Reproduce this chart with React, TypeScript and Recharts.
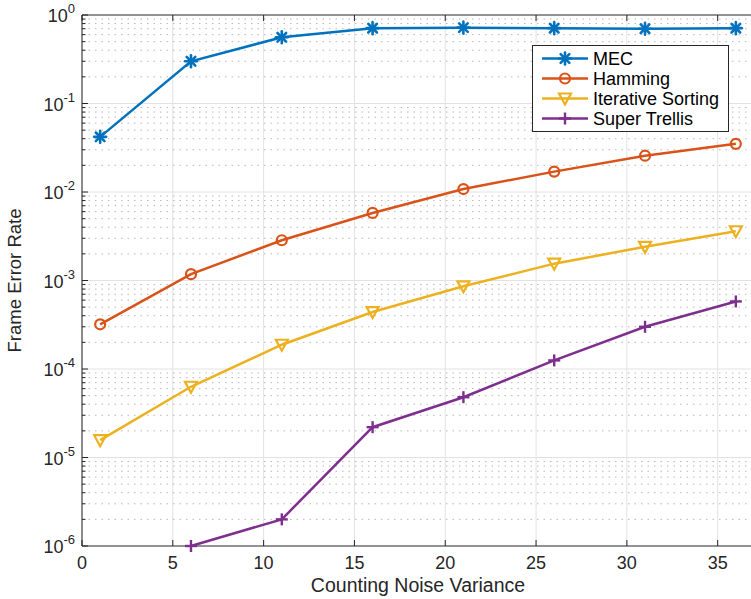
import React from 'react';
import { LineChart, Line, XAxis, YAxis, CartesianGrid, ReferenceLine } from 'recharts';

const noiseVariance = [1, 6, 11, 16, 21, 26, 31, 36];
const mec = [0.042, 0.3, 0.56, 0.71, 0.72, 0.71, 0.7, 0.71];
const hamming = [3.2e-4, 1.18e-3, 2.85e-3, 5.8e-3, 1.08e-2, 1.7e-2, 2.57e-2, 3.5e-2];
const iterativeSorting = [1.57e-5, 6.3e-5, 1.88e-4, 4.4e-4, 8.6e-4, 1.55e-3, 2.4e-3, 3.6e-3];
const superTrellis = [null, 1.0e-6, 2.0e-6, 2.2e-5, 4.8e-5, 1.25e-4, 3.0e-4, 5.8e-4];

const xTicks = [0, 5, 10, 15, 20, 25, 30, 35];
const decades = [1e-6, 1e-5, 1e-4, 1e-3, 1e-2, 1e-1, 1];
const exponents = ['-6', '-5', '-4', '-3', '-2', '-1', '0'];

// minor log ticks 2..9 in each decade
const minorTicks: number[] = [];
decades.slice(0, -1).forEach(d => {
  for (let k = 2; k <= 9; k++) minorTicks.push(+(d * k).toPrecision(3));
});
const allYTicks = [...decades, ...minorTicks].sort((a, b) => a - b);

const data = noiseVariance.map((x, i) => ({
  x,
  mec: mec[i],
  hamming: hamming[i],
  iterative: iterativeSorting[i],
  trellis: superTrellis[i],
}));

const AXIS = '#262626';
const COLORS: Record<string, string> = {
  mec: '#0072BD',
  hamming: '#D95319',
  iterative: '#EDB120',
  trellis: '#7E2F8E',
};
const FONT = 'Helvetica, Arial, "Liberation Sans", sans-serif';

const isDecade = (v: number) => decades.some(d => Math.abs(d - v) / d < 1e-6);

// marker shapes
const Marker = ({ kind, cx, cy, color }: { kind: string; cx: number; cy: number; color: string }) => {
  if (cx == null || cy == null || isNaN(cx) || isNaN(cy)) return null;
  if (kind === 'asterisk') {
    const r = 6;
    const d = r * 0.72;
    return (
      <g stroke={color} strokeWidth={2.6} strokeLinecap="round">
        <line x1={cx - r} y1={cy} x2={cx + r} y2={cy} />
        <line x1={cx} y1={cy - r} x2={cx} y2={cy + r} />
        <line x1={cx - d} y1={cy - d} x2={cx + d} y2={cy + d} />
        <line x1={cx - d} y1={cy + d} x2={cx + d} y2={cy - d} />
      </g>
    );
  }
  if (kind === 'circle') {
    return <circle cx={cx} cy={cy} r={5} fill="none" stroke={color} strokeWidth={2.2} />;
  }
  if (kind === 'triangle') {
    return (
      <path
        d={`M${cx - 6},${cy - 5} L${cx + 6},${cy - 5} L${cx},${cy + 6} Z`}
        fill="none"
        stroke={color}
        strokeWidth={2.2}
      />
    );
  }
  const r = 6;
  return (
    <g stroke={color} strokeWidth={2.4}>
      <line x1={cx - r} y1={cy} x2={cx + r} y2={cy} />
      <line x1={cx} y1={cy - r} x2={cx} y2={cy + r} />
    </g>
  );
};

const series = [
  { key: 'mec', name: 'MEC', marker: 'asterisk' },
  { key: 'hamming', name: 'Hamming', marker: 'circle' },
  { key: 'iterative', name: 'Iterative Sorting', marker: 'triangle' },
  { key: 'trellis', name: 'Super Trellis', marker: 'plus' },
];

const LeftTick = (props: any) => {
  const { x, y, payload } = props;
  const v = payload.value;
  const major = isDecade(v);
  const idx = decades.findIndex(d => Math.abs(d - v) / d < 1e-6);
  return (
    <g>
      <line x1={x} x2={x + (major ? 6 : 3.5)} y1={y} y2={y} stroke={AXIS} strokeWidth={1} />
      {major && (
        <text x={x - 7} y={y + 7} textAnchor="end" fill={AXIS} fontSize={18} fontFamily={FONT}>
          10
          <tspan dy={-9} fontSize={13}>{exponents[idx]}</tspan>
        </text>
      )}
    </g>
  );
};

const RightTick = (props: any) => {
  const { x, y, payload } = props;
  const major = isDecade(payload.value);
  return <line x1={x} x2={x - (major ? 6 : 3.5)} y1={y} y2={y} stroke={AXIS} strokeWidth={1} />;
};

const BottomTick = (props: any) => {
  const { x, y, payload } = props;
  return (
    <g>
      <line x1={x} x2={x} y1={y} y2={y - 6} stroke={AXIS} strokeWidth={1} />
      <text x={x} y={y + 23} textAnchor="middle" fill={AXIS} fontSize={18} fontFamily={FONT}>
        {payload.value}
      </text>
    </g>
  );
};

const TopTick = (props: any) => {
  const { x, y } = props;
  return <line x1={x} x2={x} y1={y} y2={y + 6} stroke={AXIS} strokeWidth={1} />;
};

const LegendBox = () => (
  <svg width={197} height={87} style={{ position: 'absolute', left: 532, top: 45, display: 'block' }}>
    <rect x={0.5} y={0.5} width={196} height={86} fill="#fff" stroke={AXIS} strokeWidth={1} />
    {series.map((s, i) => {
      const cy = 13.5 + i * 20;
      const color = COLORS[s.key];
      return (
        <g key={s.key}>
          <line x1={10} x2={56} y1={cy} y2={cy} stroke={color} strokeWidth={2.5} />
          <Marker kind={s.marker} cx={33} cy={cy} color={color} />
          <text x={61} y={cy + 6.5} fill="#000" fontSize={18} fontFamily={FONT}>
            {s.name}
          </text>
        </g>
      );
    })}
  </svg>
);

export default function App() {
  return (
    <div
      style={{
        position: 'absolute',
        left: 0,
        top: 0,
        width: 751,
        height: 599,
        overflow: 'hidden',
        background: '#fff',
      }}
    >
      <LineChart width={760} height={599} data={data} margin={{ top: 0, right: 0, bottom: 0, left: 0 }}>
        <CartesianGrid horizontal={false} stroke="#e2e2e2" strokeWidth={1} />
        {minorTicks.map(v => (
          <ReferenceLine
            key={`minor-${v}`}
            y={v}
            stroke="#b8b8b8"
            strokeWidth={1}
            strokeDasharray="1.5 5"
          />
        ))}
        {decades.slice(1, -1).map(v => (
          <ReferenceLine key={`major-${v}`} y={v} stroke="#e2e2e2" strokeWidth={1} />
        ))}
        <XAxis
          dataKey="x"
          type="number"
          domain={[0, 37]}
          ticks={xTicks}
          height={53}
          tickSize={0}
          tickMargin={0}
          tickLine={false}
          axisLine={{ stroke: AXIS, strokeWidth: 1 }}
          tick={<BottomTick />}
          interval={0}
          label={{
            value: 'Counting Noise Variance',
            position: 'insideBottom',
            offset: 7,
            fill: AXIS,
            fontSize: 19.5,
            fontFamily: FONT,
          }}
        />
        <XAxis
          xAxisId="top"
          orientation="top"
          dataKey="x"
          type="number"
          domain={[0, 37]}
          ticks={xTicks}
          height={15}
          tickSize={0}
          tickMargin={0}
          tickLine={false}
          axisLine={{ stroke: AXIS, strokeWidth: 1 }}
          tick={<TopTick />}
          interval={0}
        />
        <YAxis
          type="number"
          scale="log"
          domain={[1e-6, 1]}
          ticks={allYTicks}
          width={82}
          tickSize={0}
          tickMargin={0}
          tickLine={false}
          axisLine={{ stroke: AXIS, strokeWidth: 1 }}
          tick={<LeftTick />}
          interval={0}
          label={{
            value: 'Frame Error Rate',
            angle: -90,
            position: 'insideLeft',
            offset: 0,
            dx: 14,
            style: { textAnchor: 'middle' },
            fill: AXIS,
            fontSize: 18.5,
            fontFamily: FONT,
          }}
        />
        <YAxis
          yAxisId="right"
          orientation="right"
          type="number"
          scale="log"
          domain={[1e-6, 1]}
          ticks={allYTicks}
          width={6}
          tickSize={0}
          tickMargin={0}
          tickLine={false}
          axisLine={{ stroke: AXIS, strokeWidth: 1 }}
          tick={<RightTick />}
          interval={0}
        />
        {series.map(s => {
          const color = COLORS[s.key];
          return (
            <Line
              key={s.key}
              dataKey={s.key}
              name={s.name}
              stroke={color}
              strokeWidth={2.5}
              isAnimationActive={false}
              connectNulls={false}
              activeDot={false}
              dot={(p: any) => <Marker key={`${s.key}-${p.index}`} kind={s.marker} cx={p.cx} cy={p.cy} color={color} />}
            />
          );
        })}
      </LineChart>
      <LegendBox />
    </div>
  );
}
